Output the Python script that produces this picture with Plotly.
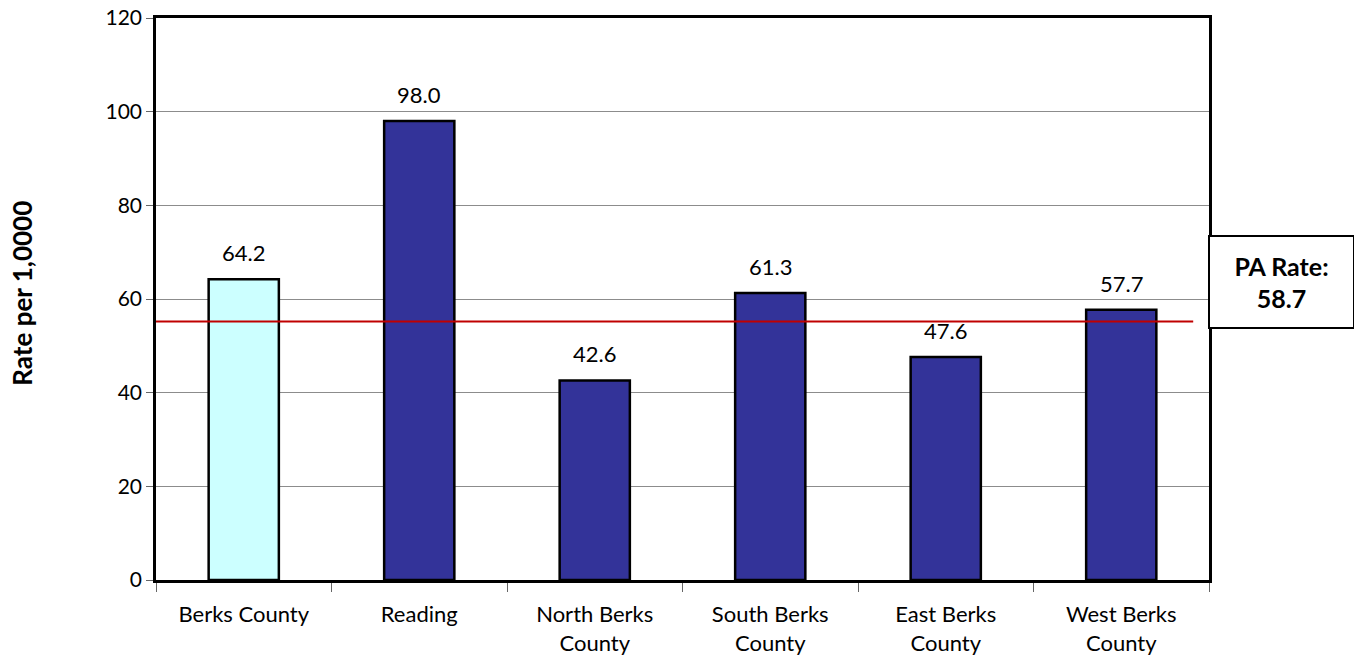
import plotly.graph_objects as go

categories = ["Berks County", "Reading", "North Berks<br>County", "South Berks<br>County",
              "East Berks<br>County", "West Berks<br>County"]
values = [64.2, 98.0, 42.6, 61.3, 47.6, 57.7]
bar_colors = ["#CCFFFF", "#333399", "#333399", "#333399", "#333399", "#333399"]
pa_rate_label = 58.7
pa_line_value = 55.2
y_ticks = [0, 20, 40, 60, 80, 100, 120]

FONT = "Lato"

fig = go.Figure()
fig.add_trace(go.Bar(
    x=categories, y=values,
    marker=dict(color=bar_colors, line=dict(color="black", width=2.5)),
    cliponaxis=False, hoverinfo="skip",
))

for c, v in zip(categories, values):
    fig.add_annotation(x=c, y=v, xref="x", yref="y", text=f"{v:.1f}", showarrow=False,
                       yanchor="bottom", yshift=11,
                       font=dict(family=FONT, size=22, color="black"))

fig.add_shape(type="line", xref="x", yref="y", x0=-0.5, x1=5.41,
              y0=pa_line_value, y1=pa_line_value,
              line=dict(color="#C00000", width=2))

fig.add_annotation(xref="paper", yref="paper", x=0.9995, y=0.613, xanchor="left", yanchor="top",
                   text=f"<b>PA Rate:<br>{pa_rate_label}</b>", showarrow=False,
                   font=dict(family=FONT, size=25, color="black"),
                   bordercolor="black", borderwidth=2, bgcolor="white",
                   width=141, height=88, align="center")

fig.add_annotation(xref="paper", yref="paper", x=-0.127, y=0.51, xanchor="center", yanchor="middle",
                   text="<b>Rate per 1,0000</b>", textangle=-90, showarrow=False,
                   font=dict(family=FONT, size=26, color="black"))

fig.update_layout(
    width=1354, height=656,
    margin=dict(l=156, r=145, t=18, b=76, autoexpand=False),
    plot_bgcolor="white", paper_bgcolor="white",
    bargap=0.6, showlegend=False,
    font=dict(family=FONT, size=20, color="black"),
)
fig.update_xaxes(range=[-0.5, 5.5], showline=True, linecolor="black", linewidth=2.5, mirror=True,
                 ticks="outside", tickson="boundaries", ticklen=9, tickcolor="#666",
                 ticklabelstandoff=13, automargin=False,
                 tickfont=dict(family=FONT, size=22), showgrid=False)
fig.update_yaxes(range=[0, 120], tickvals=y_ticks, showline=True, linecolor="black", linewidth=2.5,
                 mirror=True, ticks="outside", ticklen=7, tickcolor="#666", automargin=False,
                 gridcolor="#8c8c8c", gridwidth=1, tickfont=dict(family=FONT, size=21),
                 zeroline=False)

fig.write_html("out.html")
